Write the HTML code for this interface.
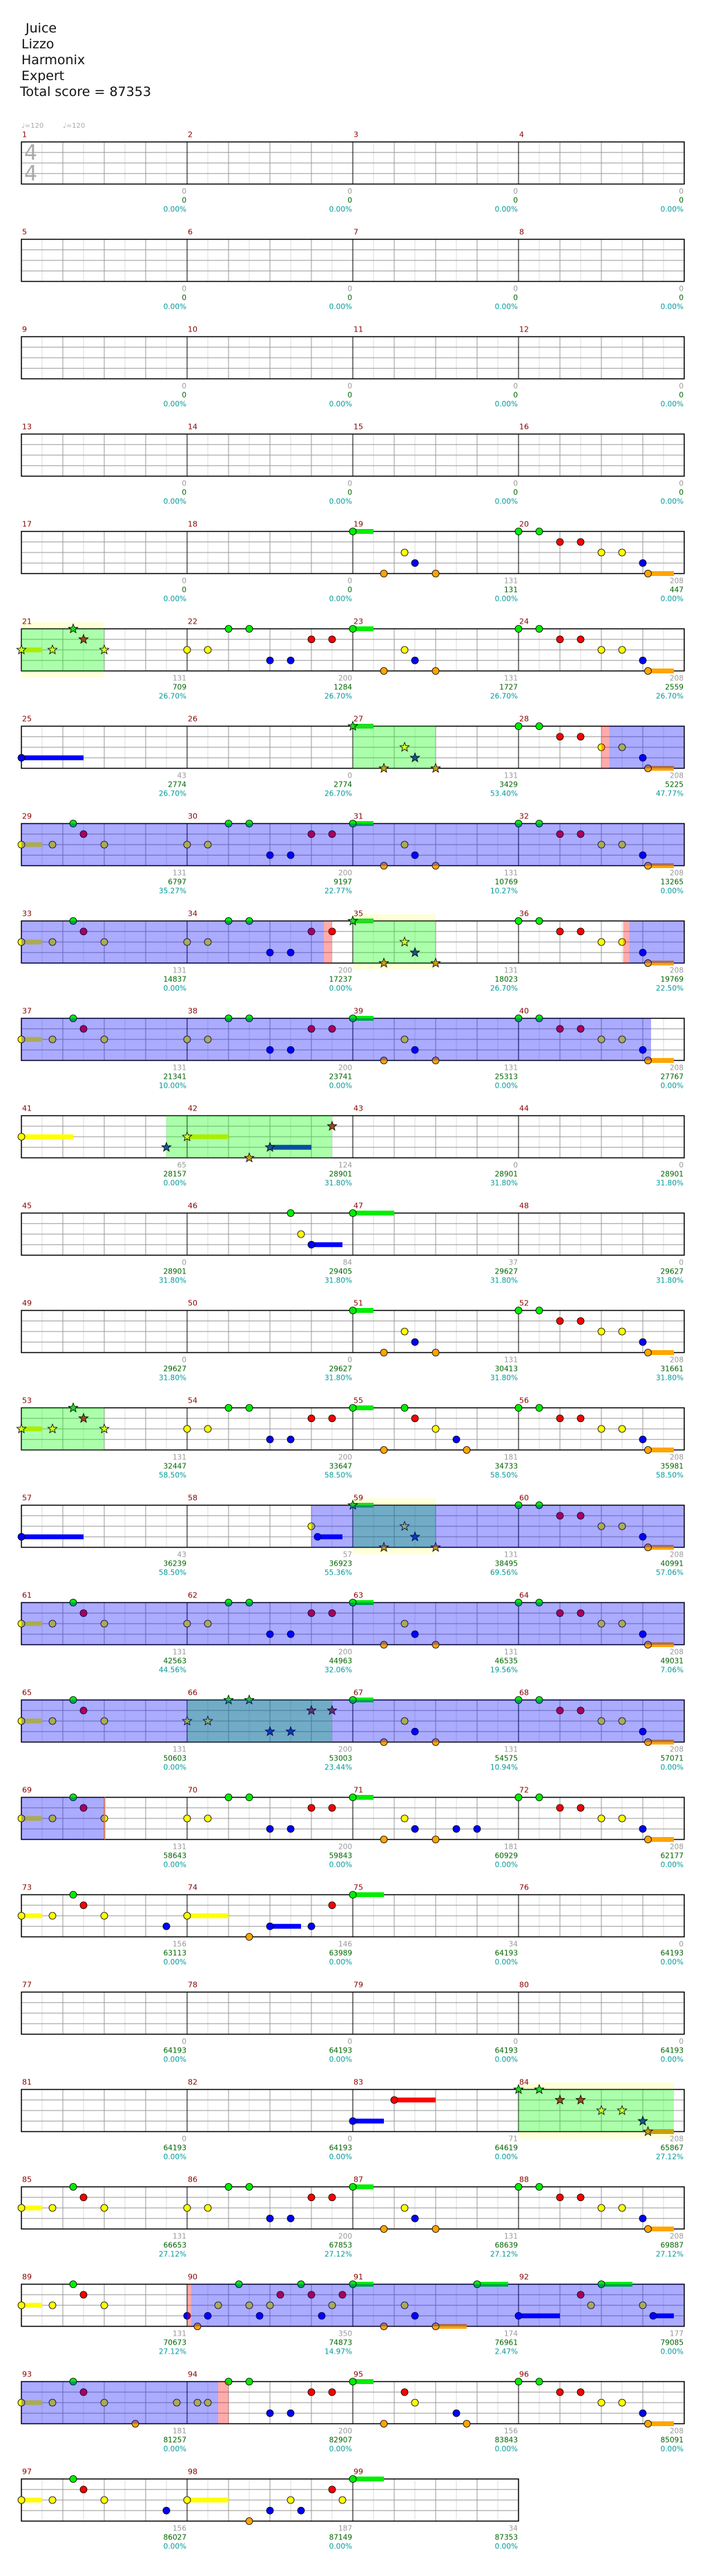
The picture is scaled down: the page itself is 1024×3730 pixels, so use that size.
<!DOCTYPE html>
<html><head><meta charset="utf-8">
<style>
html,body{margin:0;padding:0;background:#fff;}
body{width:1024px;height:3730px;overflow:hidden;position:relative;}
#hdr{position:absolute;left:31px;top:30px;font-family:"DejaVu Sans","Liberation Sans",sans-serif;font-size:19px;line-height:23px;color:#111;}
svg{position:absolute;left:0;top:0;}
</style></head><body>
<div id="hdr">&nbsp;Juice<br>Lizzo<br>Harmonix<br>Expert<br><span style="margin-left:-2px">Total score = 87353</span></div>
<svg id="s" width="1024" height="3730" xmlns="http://www.w3.org/2000/svg"></svg>
<script>
var C=["#00ee00","#ff0000","#ffff00","#0000ff","#ffa500"];
var SC=["#22dd22","#a04a10","#ccff22","#105a90","#c8a010"];
var SSC=["#22dd22","#a04a10","#aaee00","#0050a0","#c8a010"];
var A=[[0,0,2],[4,3],[2,5],[3,6],[4,8]];
var B=[[0,0],[0,2],[1,4],[1,6],[2,8],[2,10],[3,12],[4,12.5,15]];
var Cp=[[2,0,2],[2,3],[0,5],[1,6],[2,8]];
var D=[[2,0],[2,2],[0,4],[0,6],[3,8],[3,10],[1,12],[1,14]];
function st(p){return p.map(function(n){return [n[0],n[1],n[2],1];});}
var M={};
M[19]=A;M[20]=B;M[21]=st(Cp);M[22]=D;M[23]=A;M[24]=B;M[25]=[[3,0,6]];
M[27]=st(A);M[28]=B;M[29]=Cp;M[30]=D;M[31]=A;M[32]=B;M[33]=Cp;M[34]=D;M[35]=st(A);M[36]=B;
M[37]=Cp;M[38]=D;M[39]=A;M[40]=B;M[41]=[[2,0,5],[3,14,0,1]];M[42]=st([[2,0,4],[4,6],[3,8,12],[1,14]]);
M[46]=[[0,10],[2,11],[3,12,15]];M[47]=[[0,0,4]];M[51]=A;M[52]=B;M[53]=st(Cp);M[54]=D;
M[55]=[[0,0,2],[4,3],[0,5],[1,6],[2,8],[3,10],[4,11]];M[56]=B;M[57]=[[3,0,6]];M[58]=[[2,12],[3,12.6,15]];
M[59]=st(A);M[60]=B;M[61]=Cp;M[62]=D;M[63]=A;M[64]=B;M[65]=Cp;M[66]=st(D);M[67]=A;M[68]=B;
M[69]=Cp;M[70]=D;M[71]=A.concat([[3,10],[3,12]]);M[72]=B;M[73]=Cp.concat([[3,14]]);
M[74]=[[2,0,4],[4,6],[3,8,11],[3,12],[1,14]];M[75]=[[0,0,3]];M[83]=[[3,0,3],[1,4,8]];M[84]=st(B);
M[85]=Cp;M[86]=D;M[87]=A;M[88]=B;M[89]=Cp;
M[90]=[[3,0],[4,1],[3,2],[2,3],[0,5],[2,6],[3,7],[2,8],[1,9],[0,11],[1,12],[3,13],[2,14],[1,15]];
M[91]=[[0,0,2],[4,3],[2,5],[3,6],[4,8,11],[0,12,15]];
M[92]=[[3,0,4],[1,6],[2,7],[0,8,11],[2,12],[3,13,15]];
M[93]=Cp.concat([[4,11],[2,15]]);M[94]=[[2,1],[2,2],[0,4],[0,6],[3,8],[3,10],[1,12],[1,14]];
M[95]=[[0,0,2],[4,3],[1,5],[2,6],[3,10],[4,11]];M[96]=B;M[97]=Cp.concat([[3,14]]);
M[98]=[[2,0,4],[4,6],[3,8],[2,10],[3,11],[1,14],[2,15]];M[99]=[[0,0,3]];
var N={};
function setN(m,a,b,c){N[m]=[a,b,c];}
var nd="17,0,0,0.00;18,0,0,0.00;19,131,131,0.00;20,208,447,0.00;21,131,709,26.70;22,200,1284,26.70;23,131,1727,26.70;24,208,2559,26.70;25,43,2774,26.70;26,0,2774,26.70;27,131,3429,53.40;28,208,5225,47.77;29,131,6797,35.27;30,200,9197,22.77;31,131,10769,10.27;32,208,13265,0.00;33,131,14837,0.00;34,200,17237,0.00;35,131,18023,26.70;36,208,19769,22.50;37,131,21341,10.00;38,200,23741,0.00;39,131,25313,0.00;40,208,27767,0.00;41,65,28157,0.00;42,124,28901,31.80;43,0,28901,31.80;44,0,28901,31.80;45,0,28901,31.80;46,84,29405,31.80;47,37,29627,31.80;48,0,29627,31.80;49,0,29627,31.80;50,0,29627,31.80;51,131,30413,31.80;52,208,31661,31.80;53,131,32447,58.50;54,200,33647,58.50;55,181,34733,58.50;56,208,35981,58.50;57,43,36239,58.50;58,57,36923,55.36;59,131,38495,69.56;60,208,40991,57.06;61,131,42563,44.56;62,200,44963,32.06;63,131,46535,19.56;64,208,49031,7.06;65,131,50603,0.00;66,200,53003,23.44;67,131,54575,10.94;68,208,57071,0.00;69,131,58643,0.00;70,200,59843,0.00;71,181,60929,0.00;72,208,62177,0.00;73,156,63113,0.00;74,146,63989,0.00;75,34,64193,0.00;76,0,64193,0.00;77,0,64193,0.00;78,0,64193,0.00;79,0,64193,0.00;80,0,64193,0.00;81,0,64193,0.00;82,0,64193,0.00;83,71,64619,0.00;84,208,65867,27.12;85,131,66653,27.12;86,200,67853,27.12;87,131,68639,27.12;88,208,69887,27.12;89,131,70673,27.12;90,350,74873,14.97;91,174,76961,2.47;92,177,79085,0.00;93,181,81257,0.00;94,200,82907,0.00;95,156,83843,0.00;96,208,85091,0.00;97,156,86027,0.00;98,187,87149,0.00;99,34,87353,0.00";
nd.split(";").forEach(function(r){var p=r.split(",");setN(+p[0],p[1],p[2],p[3]+"%");});
for(var i=1;i<=16;i++)setN(i,"0","0","0.00%");
function T(r){return 205.5+r*141;}
function pos(m,s){var g=(m-1)*16+s;return g;}
function gx(g){var r=Math.floor(g/64);return {r:r,x:31+(g-r*64)*15};}
var o=[];
function rng(m1,s1,m2,s2,fill,ext){
  var g1=pos(m1,s1),g2=pos(m2,s2);
  while(g1<g2-0.001){
    var r=Math.floor(g1/64+1e-9),end=Math.min(g2,(r+1)*64);
    var x1=31+(g1-r*64)*15,x2=31+(end-r*64)*15,t=T(r);
    o.push('<rect x="'+x1+'" y="'+(t-ext)+'" width="'+(x2-x1)+'" height="'+(61+2*ext)+'" fill="'+fill+'"/>');
    g1=end;
  }
}
// yellow bgs
[[21,0,21,8],[35,0,35,8],[59,0,59,8],[84,0,84,15]].forEach(function(a){rng(a[0],a[1],a[2],a[3],"#ffffd8",10);});
// staffs
for(var r=0;r<25;r++){
  var t=T(r),nm=(r==24)?3:4,w=nm*240;
  o.push('<rect x="31" y="'+t+'" width="'+w+'" height="61" fill="#fff"/>');
  for(var k=0;k<nm*8;k++){var x=31+k*30;if(k%2)o.push('<line x1="'+x+'" y1="'+t+'" x2="'+x+'" y2="'+(t+61)+'" stroke="#ddd" stroke-width="1"/>');}
  for(var k=0;k<nm*4;k++){if(k%4){var x=31+k*60;o.push('<line x1="'+x+'" y1="'+t+'" x2="'+x+'" y2="'+(t+61)+'" stroke="#999" stroke-width="1"/>');}}
  for(var j=1;j<4;j++){var y=t+j*15.25;o.push('<line x1="31" y1="'+y+'" x2="'+(31+w)+'" y2="'+y+'" stroke="#999" stroke-width="1"/>');}
  for(var k=1;k<nm;k++){var x=31+k*240;o.push('<line x1="'+x+'" y1="'+t+'" x2="'+x+'" y2="'+(t+61)+'" stroke="#000" stroke-width="1"/>');}
  o.push('<rect x="31" y="'+t+'" width="'+w+'" height="61" fill="none" stroke="#000" stroke-width="1.5"/>');
}
// star regions
[[21,0,21,8],[27,0,27,8],[35,0,35,8],[41,14,42,14],[53,0,53,8],[59,0,59,8],[66,0,66,14],[84,0,84,15]].forEach(function(a){rng(a[0],a[1],a[2],a[3],"rgba(0,255,0,0.33)",0);});
// notes
function star(cx,cy,R,f){var p=[];for(var i=0;i<10;i++){var a=-Math.PI/2+i*Math.PI/5,rr=(i%2)?R*0.42:R;p.push((cx+rr*Math.cos(a)).toFixed(1)+","+(cy+rr*Math.sin(a)).toFixed(1));}
 return '<polygon points="'+p.join(" ")+'" fill="'+f+'" stroke="#000" stroke-width="0.8"/>';}
var sus=[],heads=[];
for(var m in M){
  m=+m;var r=Math.floor((m-1)/4),c=(m-1)%4,t=T(r);
  M[m].forEach(function(n){
    var x=31+c*240+n[1]*15,y=t+n[0]*15.25;
    if(n[2]){var x2=31+c*240+n[2]*15;sus.push('<rect x="'+x+'" y="'+(y-3.5)+'" width="'+(x2-x)+'" height="7" fill="'+(n[3]?SSC[n[0]]:C[n[0]])+'"/>');}
    if(n[3])heads.push(star(x,y,7,SC[n[0]]));
    else heads.push('<circle cx="'+x+'" cy="'+y+'" r="5" fill="'+C[n[0]]+'" stroke="#000" stroke-width="0.8"/>');
  });
}
o=o.concat(sus,heads);
// overlays
var BL="rgba(0,0,255,0.33)",PK="rgba(255,0,0,0.33)";
rng(28,8,28,8.75,PK,0);rng(28,8.75,29,0,BL,0);
rng(29,0,34,13.2,BL,0);rng(34,13.2,34,14,PK,0);
rng(36,10.1,36,10.7,PK,0);rng(36,10.7,40,12.8,BL,0);
rng(58,12,69,8,BL,0);rng(69,8,69,8.1,"#f08040",0);
rng(90,0,90,0.4,PK,0);rng(90,0.4,94,3,BL,0);rng(94,3,94,4,PK,0);
// texts
var F='font-family="DejaVu Sans,Liberation Sans,sans-serif"';
o.push('<text x="31" y="185" '+F+' font-size="10" fill="#aaa">&#9833;=120</text>');
o.push('<text x="91" y="185" '+F+' font-size="10" fill="#aaa">&#9833;=120</text>');
o.push('<text x="35" y="231" '+F+' font-size="30" fill="#aaa">4</text>');
o.push('<text x="35" y="261" '+F+' font-size="30" fill="#aaa">4</text>');
for(var m=1;m<=99;m++){
  var r=Math.floor((m-1)/4),c=(m-1)%4,t=T(r),x=31+c*240;
  o.push('<text x="'+(x+1)+'" y="'+(t-7)+'" '+F+' font-size="11" fill="#8b0000">'+m+'</text>');
  var nn=N[m],xe=x+239;
  o.push('<text x="'+xe+'" y="'+(t+75)+'" '+F+' font-size="10.5" fill="#999" text-anchor="end">'+nn[0]+'</text>');
  o.push('<text x="'+xe+'" y="'+(t+88)+'" '+F+' font-size="10.5" fill="#006400" text-anchor="end">'+nn[1]+'</text>');
  o.push('<text x="'+xe+'" y="'+(t+101)+'" '+F+' font-size="10.5" fill="#009999" text-anchor="end">'+nn[2]+'</text>');
}
o.push('<text x="1015" y="3589" '+F+' font-size="11" fill="#8b0000"></text>');
document.getElementById("s").innerHTML=o.join("");
</script>
</body></html>
